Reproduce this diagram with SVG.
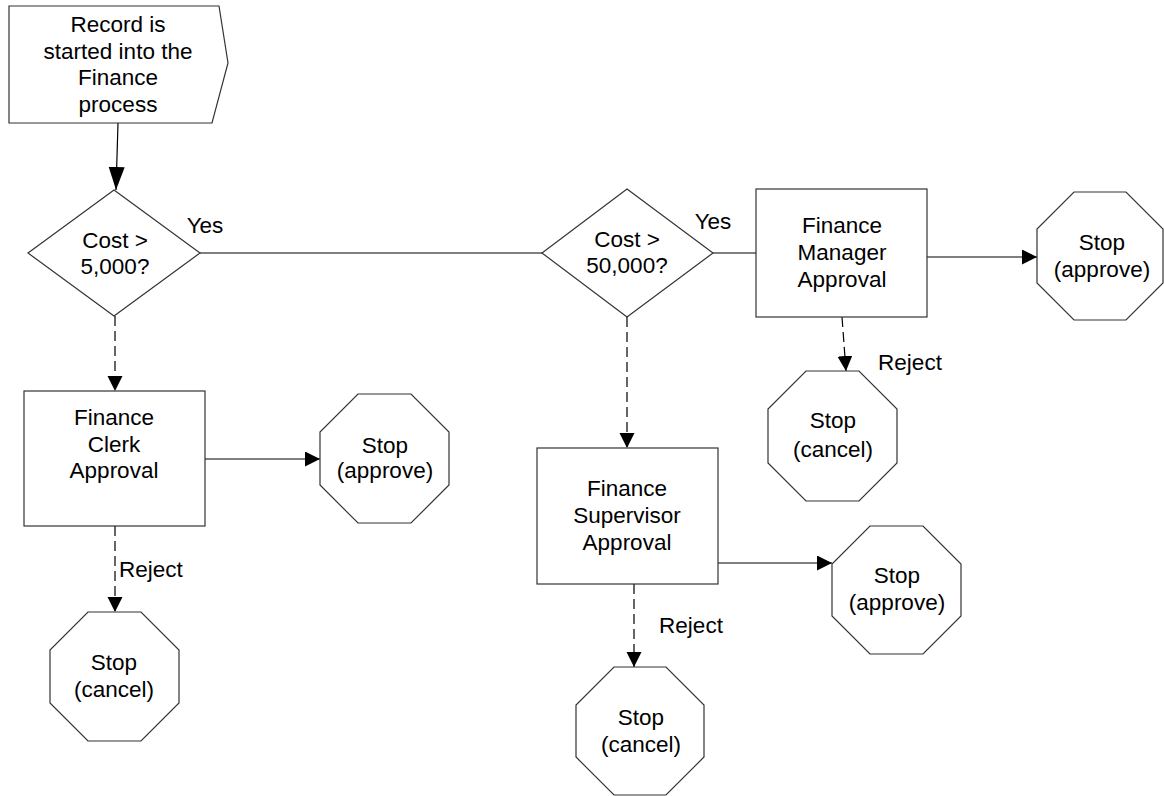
<svg xmlns="http://www.w3.org/2000/svg" width="1164" height="796" viewBox="0 0 1164 796">
  <defs>
    <marker id="arrow" markerUnits="userSpaceOnUse" markerWidth="16" markerHeight="16" refX="15" refY="7.5" orient="auto">
      <path d="M0,0 L15,7.5 L0,15 z" fill="#000"/>
    </marker>
    <marker id="arrowBig" markerUnits="userSpaceOnUse" markerWidth="24" markerHeight="18" refX="23" refY="8" orient="auto">
      <path d="M0,0 L23,8 L0,16 z" fill="#000"/>
    </marker>
    <style>
      .shape { fill: #fff; stroke: #333; stroke-width: 1.2; }
      .conn { fill: none; stroke: #000; stroke-width: 1.2; }
      .dash { stroke-dasharray: 10 5; }
      .lbl { font-family: "Liberation Sans", Arial, sans-serif; font-size: 22.5px; fill: #000; text-anchor: middle; }
      .lbl-start { text-anchor: start; }
    </style>
  </defs>
  <rect width="1164" height="796" fill="#fff"/>

  <!-- connectors -->
  <g id="connectors">
    <path class="conn" d="M118,123 L116,190" stroke-width="2.2" marker-end="url(#arrowBig)"/>
    <path class="conn" d="M200,253 L542,253"/>
    <path class="conn" d="M713,253 L756,253"/>
    <path class="conn" d="M927,257 L1037,257" marker-end="url(#arrow)"/>
    <path class="conn dash" d="M842,317 L846,371" marker-end="url(#arrow)"/>
    <path class="conn dash" d="M115,316 L115,391" marker-end="url(#arrow)"/>
    <path class="conn" d="M205,459 L320,459" marker-end="url(#arrow)"/>
    <path class="conn dash" d="M115,526 L115,612" marker-end="url(#arrow)"/>
    <path class="conn dash" d="M627,317 L627,448" marker-end="url(#arrow)"/>
    <path class="conn" d="M718,563 L832,563" marker-end="url(#arrow)"/>
    <path class="conn dash" d="M634,584 L634,667" marker-end="url(#arrow)"/>
    <text class="lbl" x="205" y="233">Yes</text>
    <text class="lbl" x="713" y="229">Yes</text>
    <text class="lbl lbl-start" x="119" y="577">Reject</text>
    <text class="lbl" x="691" y="633">Reject</text>
    <text class="lbl" x="910" y="370">Reject</text>
  </g>

  <!-- start event -->
  <g id="start">
    <polygon class="shape" points="9,6 219,6 228,63 212,123 9,123"/>
    <text class="lbl" x="118" y="32">Record is</text>
    <text class="lbl" x="118" y="58.5">started into the</text>
    <text class="lbl" x="118" y="85">Finance</text>
    <text class="lbl" x="118" y="111.5">process</text>
  </g>

  <!-- decisions -->
  <g id="decision-5000">
    <polygon class="shape" points="114,190 200,253 114,316 28,253"/>
    <text class="lbl" x="115" y="248">Cost &gt;</text>
    <text class="lbl" x="115" y="274">5,000?</text>
  </g>
  <g id="decision-50000">
    <polygon class="shape" points="627,189 713,253 627,317 542,253"/>
    <text class="lbl" x="627" y="247">Cost &gt;</text>
    <text class="lbl" x="627" y="273">50,000?</text>
  </g>

  <!-- approval tasks -->
  <g id="clerk-approval">
    <rect class="shape" x="24" y="391" width="181" height="135"/>
    <text class="lbl" x="114" y="425">Finance</text>
    <text class="lbl" x="114" y="452">Clerk</text>
    <text class="lbl" x="114" y="478">Approval</text>
  </g>
  <g id="supervisor-approval">
    <rect class="shape" x="537" y="448" width="181" height="136"/>
    <text class="lbl" x="627" y="496">Finance</text>
    <text class="lbl" x="627" y="523">Supervisor</text>
    <text class="lbl" x="627" y="550">Approval</text>
  </g>
  <g id="manager-approval">
    <rect class="shape" x="756" y="189" width="171" height="128"/>
    <text class="lbl" x="842" y="233">Finance</text>
    <text class="lbl" x="842" y="260">Manager</text>
    <text class="lbl" x="842" y="287">Approval</text>
  </g>

  <!-- stop events -->
  <g id="clerk-stop-approve">
    <polygon class="shape" points="358,394 411,394 449,432 449,485 411,523 358,523 320,485 320,432"/>
    <text class="lbl" x="385" y="453">Stop</text>
    <text class="lbl" x="385" y="478">(approve)</text>
  </g>
  <g id="clerk-stop-cancel">
    <polygon class="shape" points="88,612 141,612 179,650 179,703 141,741 88,741 50,703 50,650"/>
    <text class="lbl" x="114" y="670">Stop</text>
    <text class="lbl" x="114" y="697">(cancel)</text>
  </g>
  <g id="supervisor-stop-approve">
    <polygon class="shape" points="870,526 923,526 961,564 961,616 923,654 870,654 832,616 832,564"/>
    <text class="lbl" x="897" y="583">Stop</text>
    <text class="lbl" x="897" y="610">(approve)</text>
  </g>
  <g id="supervisor-stop-cancel">
    <polygon class="shape" points="614,667 666,667 704,705 704,757 666,795 614,795 576,757 576,705"/>
    <text class="lbl" x="641" y="725">Stop</text>
    <text class="lbl" x="641" y="752">(cancel)</text>
  </g>
  <g id="manager-stop-cancel">
    <polygon class="shape" points="806,371 859,371 897,409 897,463 859,501 806,501 768,463 768,409"/>
    <text class="lbl" x="833" y="428">Stop</text>
    <text class="lbl" x="833" y="457">(cancel)</text>
  </g>
  <g id="manager-stop-approve">
    <polygon class="shape" points="1074,192 1126,192 1163,229 1163,283 1126,320 1074,320 1037,283 1037,229"/>
    <text class="lbl" x="1102" y="250">Stop</text>
    <text class="lbl" x="1102" y="277">(approve)</text>
  </g>
</svg>
